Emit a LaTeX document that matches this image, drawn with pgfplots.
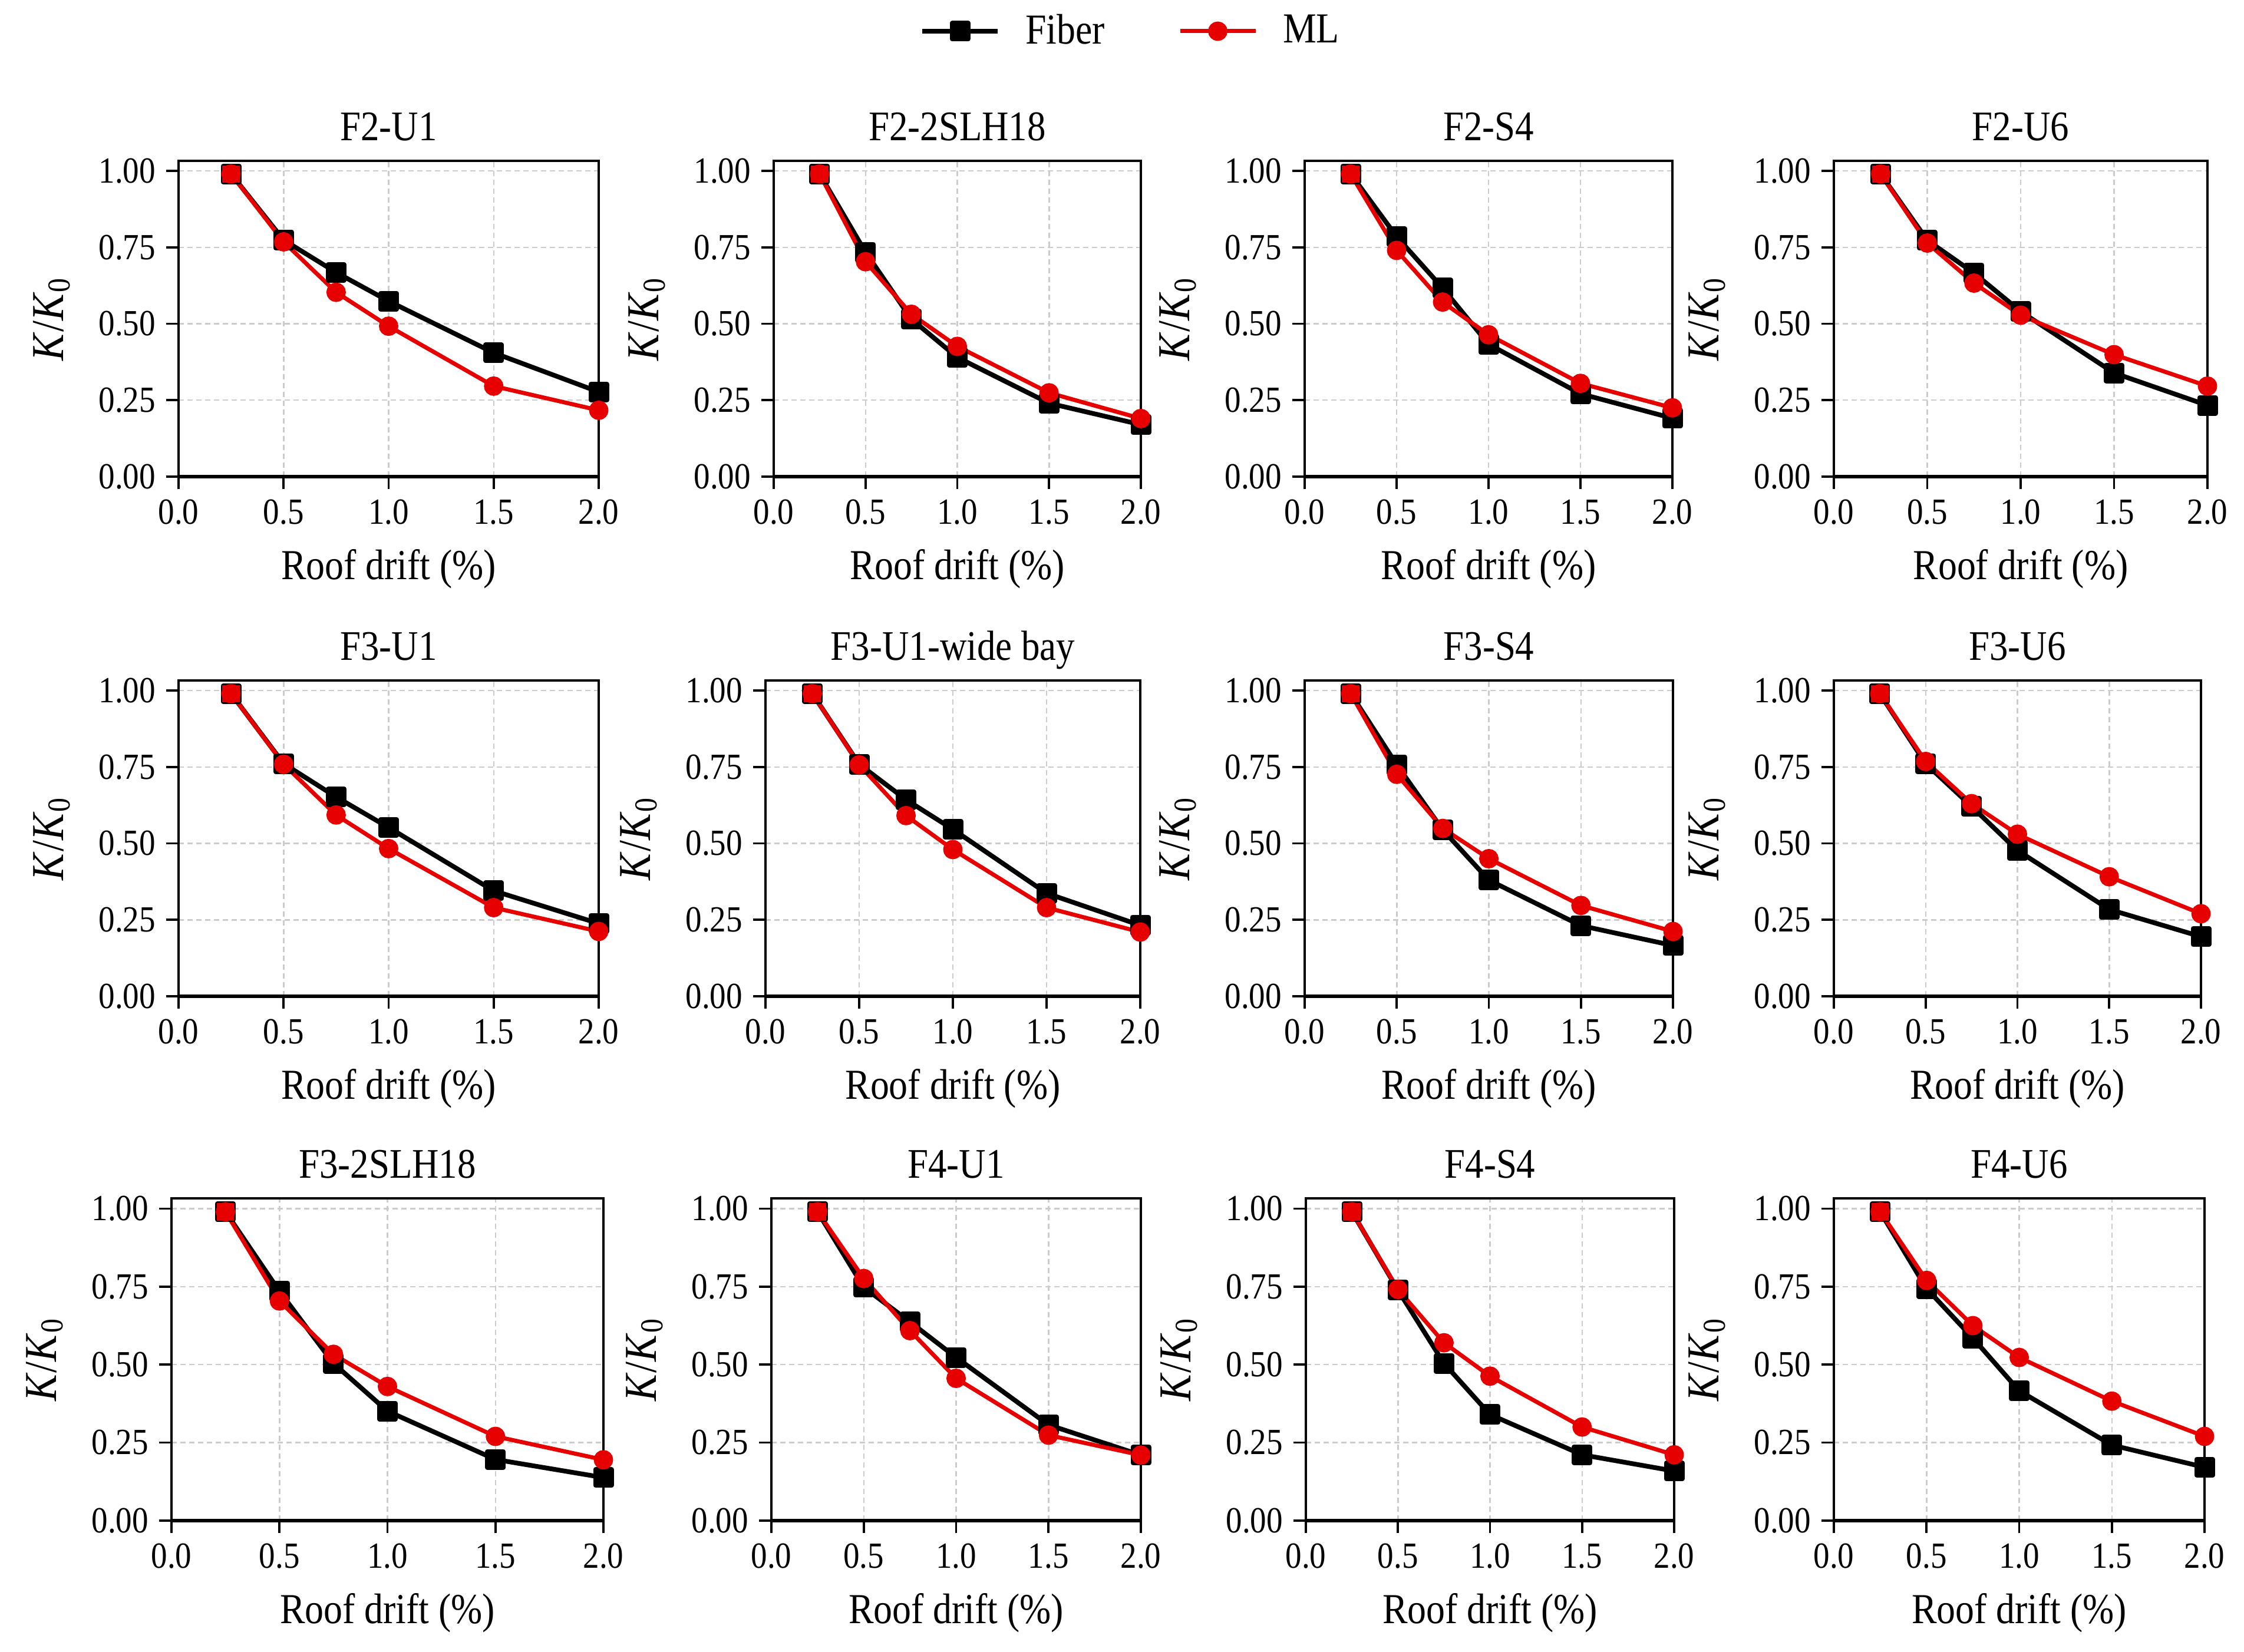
\documentclass[border=0pt]{standalone}
\usepackage{fontspec}
\setmainfont{Liberation Serif}[FakeStretch=0.88]
\usepackage{pgfplots}
\pgfplotsset{compat=1.18}
\definecolor{mlred}{RGB}{230,0,0}
\pgfplotsset{
 kstyle/.style={
  anchor=south west, scale only axis, clip=false,
  xmin=0, xmax=2, ymin=0, ymax=1.033,
  xtick={0,0.5,1,1.5,2}, ytick={0,0.25,0.5,0.75,1},
  /pgf/number format/assume math mode=true,
  xticklabel style={/pgf/number format/.cd, fixed, fixed zerofill, precision=1},
  yticklabel style={/pgf/number format/.cd, fixed, fixed zerofill, precision=2},
  tick label style={font=\fontsize{12.5}{14}\selectfont},
  tick align=outside, tick pos=left, major tick length=4.3pt,
  tick style={black, line width=0.75pt},
  axis line style={line width=0.75pt},
  grid=major, major grid style={dash pattern=on 1.8pt off 1.2pt, black!20, line width=0.5pt},
  title style={at={(axis description cs:0.5,1)}, anchor=base, yshift=0.9pt, font=\fontsize{14.3}{16}\selectfont},
  xlabel={Roof drift (\%)},
  xlabel style={at={(axis description cs:0.5,0)}, anchor=base, yshift=-35pt, font=\fontsize{14.5}{16}\selectfont},
  ylabel={\textit{K}/\textit{K}\textsubscript{0}},
  ylabel style={at={([xshift=-43pt]axis description cs:0,0.5)}, anchor=center, font=\fontsize{15.5}{17}\selectfont},
  legend image code/.code={\draw[mark repeat=2,mark phase=2] plot coordinates {(0cm,0cm) (0.45cm,0cm) (0.9cm,0cm)};},
 },
 fiber/.style={black, line width=1.6pt, line join=round, mark=square*, mark size=2.7pt, mark options={solid}},
 ml/.style={mlred, line width=1.4pt, line join=round, mark=*, mark size=2.6pt, mark options={solid}},
}
\newcommand{\panel}[8]{%
\begin{axis}[kstyle, at={(#1pt,#2pt)}, width=#3pt, height=#4pt, title={#5}, #6]
\addplot[fiber] coordinates {#7};
\addplot[ml] coordinates {#8};
\addplot[forget plot, only marks, mark=square*, mlred, mark size=2.75pt, mark options={draw=mlred, fill=mlred}] coordinates {(0.25,0.99)};
\draw[line width=1.3pt] (rel axis cs:0,0) -- (rel axis cs:1,0);
\end{axis}}
\begin{document}
\begin{tikzpicture}
\useasboundingbox (0,0) rectangle (761.6pt,560.8pt);
% Row 1
\panel{60.6}{399}{142.6}{107.2}{F2-U1}{legend entries={Fiber,ML}, legend columns=2,
  legend style={at={(axis description cs:2.2707,1.4104)}, anchor=center, draw=none, fill=none,
  font=\fontsize{14.5}{16}\selectfont, /tikz/every even column/.append style={column sep=22.8pt},
  /tikz/every odd column/.append style={column sep=6.6pt}}}
 {(0.25,0.99) (0.5,0.774) (0.75,0.668) (1,0.574) (1.5,0.405) (2,0.277)}
 {(0.25,0.99) (0.5,0.768) (0.75,0.603) (1,0.492) (1.5,0.296) (2,0.217)}
\panel{262.6}{399}{124.6}{107.2}{F2-2SLH18}{}
 {(0.25,0.99) (0.5,0.734) (0.75,0.515) (1,0.39) (1.5,0.24) (2,0.17)}
 {(0.25,0.99) (0.5,0.703) (0.75,0.531) (1,0.426) (1.5,0.274) (2,0.19)}
\panel{442.8}{399}{124.8}{107.2}{F2-S4}{}
 {(0.25,0.99) (0.5,0.785) (0.75,0.617) (1,0.433) (1.5,0.271) (2,0.191)}
 {(0.25,0.99) (0.5,0.74) (0.75,0.571) (1,0.464) (1.5,0.305) (2,0.225)}
\panel{622.4}{399}{126.8}{107.2}{F2-U6}{}
 {(0.25,0.99) (0.5,0.773) (0.75,0.666) (1,0.54) (1.5,0.339) (2,0.233)}
 {(0.25,0.99) (0.5,0.764) (0.75,0.633) (1,0.528) (1.5,0.399) (2,0.296)}
% Row 2
\panel{60.6}{222.6}{142.6}{107.2}{F3-U1}{}
 {(0.25,0.99) (0.5,0.761) (0.75,0.652) (1,0.552) (1.5,0.345) (2,0.238)}
 {(0.25,0.99) (0.5,0.759) (0.75,0.593) (1,0.483) (1.5,0.29) (2,0.212)}
\panel{259.8}{222.6}{127.2}{107.2}{F3-U1-wide bay}{}
 {(0.25,0.99) (0.5,0.759) (0.75,0.643) (1,0.546) (1.5,0.337) (2,0.232)}
 {(0.25,0.99) (0.5,0.757) (0.75,0.591) (1,0.48) (1.5,0.29) (2,0.21)}
\panel{442.8}{222.6}{125}{107.2}{F3-S4}{}
 {(0.25,0.99) (0.5,0.757) (0.75,0.544) (1,0.38) (1.5,0.231) (2,0.166)}
 {(0.25,0.99) (0.5,0.726) (0.75,0.549) (1,0.45) (1.5,0.297) (2,0.212)}
\panel{622.4}{222.6}{124.6}{107.2}{F3-U6}{}
 {(0.25,0.99) (0.5,0.761) (0.75,0.621) (1,0.477) (1.5,0.284) (2,0.195)}
 {(0.25,0.99) (0.5,0.768) (0.75,0.63) (1,0.53) (1.5,0.391) (2,0.27)}
% Row 3
\panel{58.2}{44.6}{146.6}{109.4}{F3-2SLH18}{}
 {(0.25,0.99) (0.5,0.735) (0.75,0.504) (1,0.351) (1.5,0.196) (2,0.138)}
 {(0.25,0.99) (0.5,0.704) (0.75,0.533) (1,0.43) (1.5,0.27) (2,0.195)}
\panel{261.8}{44.6}{125.4}{109.4}{F4-U1}{}
 {(0.25,0.99) (0.5,0.748) (0.75,0.637) (1,0.523) (1.5,0.307) (2,0.21)}
 {(0.25,0.99) (0.5,0.776) (0.75,0.609) (1,0.456) (1.5,0.274) (2,0.21)}
\panel{443.2}{44.6}{125}{109.4}{F4-S4}{}
 {(0.25,0.99) (0.5,0.739) (0.75,0.504) (1,0.34) (1.5,0.211) (2,0.159)}
 {(0.25,0.99) (0.5,0.741) (0.75,0.57) (1,0.463) (1.5,0.3) (2,0.211)}
\panel{622.4}{44.6}{125.8}{109.4}{F4-U6}{}
 {(0.25,0.99) (0.5,0.744) (0.75,0.585) (1,0.416) (1.5,0.242) (2,0.171)}
 {(0.25,0.99) (0.5,0.77) (0.75,0.625) (1,0.523) (1.5,0.383) (2,0.27)}
\end{tikzpicture}
\end{document}
